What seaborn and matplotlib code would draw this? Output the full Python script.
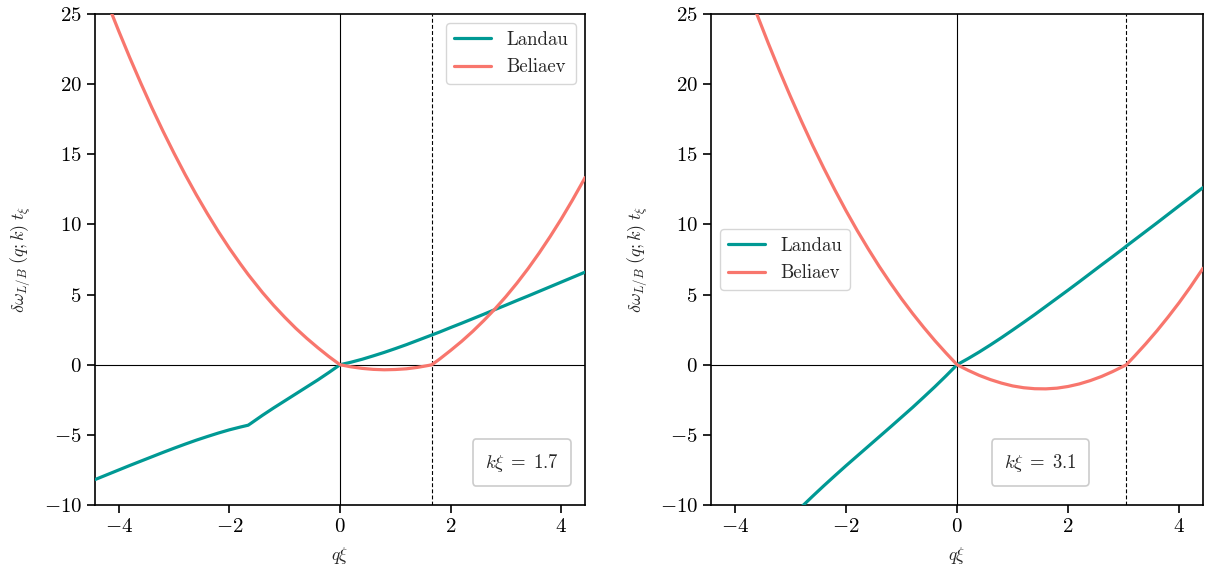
import numpy as np
import pandas as pd
import matplotlib
matplotlib.use("Agg")
import matplotlib.pyplot as plt
import seaborn as sns
from matplotlib.offsetbox import AnchoredText

# --- Data ---
# panel 1: k*xi ~ 1.7 (zero of the Beliaev curve / dashed line sits at ~1.66)
k_left = 1.66
k_left_label = "1.7"
q_left = [-4.43, -4.4, -4.2, -4.0, -3.8, -3.6, -3.4, -3.2, -3.0, -2.8, -2.6, -2.4, -2.2, -2.0, -1.8, -1.66, -1.6,
          -1.4, -1.2, -1.0, -0.8, -0.6, -0.4, -0.2, 0.0, 0.2, 0.4, 0.6, 0.8, 1.0, 1.2, 1.4, 1.6, 1.66,
          1.8, 2.0, 2.2, 2.4, 2.6, 2.8, 3.0, 3.2, 3.4, 3.6, 3.8, 4.0, 4.2, 4.4, 4.43]
landau_left = [-8.19, -8.14, -7.82, -7.50, -7.18, -6.87, -6.56, -6.25, -5.95, -5.66, -5.38, -5.12, -4.87, -4.64, -4.44, -4.31, -4.15,
               -3.60, -3.08, -2.58, -2.08, -1.58, -1.08, -0.55, 0.00, 0.18, 0.39, 0.63, 0.88, 1.15, 1.43, 1.73, 2.03, 2.12,
               2.33, 2.65, 2.96, 3.28, 3.60, 3.93, 4.25, 4.58, 4.90, 5.23, 5.56, 5.89, 6.22, 6.55, 6.60]
beliaev_left = [28.13, 27.81, 25.75, 23.78, 21.88, 20.06, 18.31, 16.65, 15.07, 13.56, 12.13, 10.78, 9.50, 8.30, 7.18, 6.43, 6.13,
                5.14, 4.23, 3.39, 2.60, 1.88, 1.21, 0.58, 0.00, -0.15, -0.26, -0.33, -0.36, -0.34, -0.29, -0.19, -0.05, 0.00,
                0.40, 1.02, 1.67, 2.38, 3.15, 3.97, 4.86, 5.82, 6.85, 7.96, 9.14, 10.39, 11.72, 13.12, 13.34]

# panel 2: k*xi ~ 3.1 (dashed line at ~3.05)
k_right = 3.05
k_right_label = "3.1"
q_right = [-4.43, -4.4, -4.2, -4.0, -3.8, -3.6, -3.4, -3.2, -3.05, -3.0, -2.8, -2.6, -2.4, -2.2, -2.0, -1.8, -1.6,
           -1.4, -1.2, -1.0, -0.8, -0.6, -0.4, -0.2, 0.0, 0.2, 0.4, 0.6, 0.8, 1.0, 1.2, 1.4, 1.6, 1.8,
           2.0, 2.2, 2.4, 2.6, 2.8, 3.0, 3.05, 3.2, 3.4, 3.6, 3.8, 4.0, 4.2, 4.4, 4.43]
landau_right = [-14.65, -14.57, -14.00, -13.45, -12.92, -12.40, -11.91, -11.45, -11.12, -10.92, -10.13, -9.37, -8.63, -7.91, -7.20, -6.51, -5.82,
                -5.13, -4.44, -3.74, -3.04, -2.31, -1.57, -0.80, 0.00, 0.44, 0.91, 1.41, 1.93, 2.47, 3.02, 3.58, 4.16, 4.74,
                5.32, 5.91, 6.51, 7.11, 7.70, 8.30, 8.46, 8.91, 9.51, 10.11, 10.72, 11.33, 11.93, 12.54, 12.63]
beliaev_right = [34.16, 33.80, 31.47, 29.21, 27.04, 24.94, 22.92, 20.98, 19.58, 19.12, 17.34, 15.63, 14.01, 12.46, 10.98, 9.58, 8.26,
                 7.00, 5.82, 4.70, 3.65, 2.66, 1.72, 0.84, 0.00, -0.40, -0.76, -1.06, -1.31, -1.51, -1.64, -1.71, -1.72, -1.67,
                 -1.55, -1.37, -1.13, -0.84, -0.49, -0.10, 0.00, 0.63, 1.50, 2.42, 3.40, 4.43, 5.53, 6.70, 6.88]

COLORS = {"Landau": "#009994", "Beliaev": "#f8766d"}

sns.set_theme(style="ticks", rc={
    "axes.edgecolor": "black",
    "axes.linewidth": 1.2,
    "xtick.color": "black",
    "ytick.color": "black",
    "xtick.major.size": 5.5,
    "ytick.major.size": 5.5,
    "xtick.major.width": 1.2,
    "ytick.major.width": 1.2,
})
plt.rcParams["font.family"] = "serif"
plt.rcParams["font.serif"] = ["cmr10"]
plt.rcParams["mathtext.fontset"] = "cm"
plt.rcParams["axes.formatter.use_mathtext"] = True
plt.rcParams["axes.unicode_minus"] = True


def make_frame(q, landau, beliaev):
    df_l = pd.DataFrame({"q": q, "dw": landau, "Process": "Landau"})
    df_b = pd.DataFrame({"q": q, "dw": beliaev, "Process": "Beliaev"})
    return pd.concat([df_l, df_b], ignore_index=True)


panels = [
    (make_frame(q_left, landau_left, beliaev_left), k_left, k_left_label,
     "upper right", ("lower right", (0.971, 0.039))),
    (make_frame(q_right, landau_right, beliaev_right), k_right, k_right_label,
     "center left", ("lower center", (0.669, 0.039))),
]

fig, axes = plt.subplots(1, 2, figsize=(12.13, 5.72), dpi=100)
axes[0].set_position([0.0783, 0.1171, 0.404, 0.8584])
axes[1].set_position([0.5862, 0.1171, 0.4056, 0.8584])

for ax, (df, k, k_label, leg_loc, (box_loc, box_anchor)) in zip(axes, panels):
    ax.axhline(0, color="black", lw=0.8, zorder=1)
    ax.axvline(0, color="black", lw=0.8, zorder=1)
    ax.axvline(k, color="black", lw=0.8, ls=(0, (3.5, 2)), zorder=1)

    sns.lineplot(data=df, x="q", y="dw", hue="Process", palette=COLORS,
                 estimator=None, sort=False, lw=2.3, ax=ax, zorder=3)

    ax.set_xlim(-4.43, 4.43)
    ax.set_ylim(-10, 25)
    ax.set_xticks([-4, -2, 0, 2, 4])
    ax.set_yticks([-10, -5, 0, 5, 10, 15, 20, 25])
    ax.tick_params(labelsize=15, pad=4)
    ax.set_xlabel(r"$q\xi$", fontsize=12.5, labelpad=6)
    ax.set_ylabel(r"$\delta\omega_{L/B}\;(q;k)\;t_\xi$", fontsize=13, labelpad=8)
    for sp in ax.spines.values():
        sp.set_visible(True)

    leg = ax.legend(loc=leg_loc, fontsize=13.5, title=None, fancybox=True,
                    framealpha=0.8, edgecolor="0.8")
    for line in leg.get_lines():
        line.set_linewidth(2.3)

    at = AnchoredText(rf"$k\xi\;=\;{k_label}$", loc=box_loc, prop=dict(size=13.5),
                      frameon=True, pad=0.65, borderpad=0,
                      bbox_to_anchor=box_anchor, bbox_transform=ax.transAxes)
    at.patch.set_boxstyle("round,pad=0,rounding_size=0.2")
    at.patch.set_edgecolor("0.8")
    at.patch.set_linewidth(1.2)
    ax.add_artist(at)

fig.savefig("out.png", dpi=100)
